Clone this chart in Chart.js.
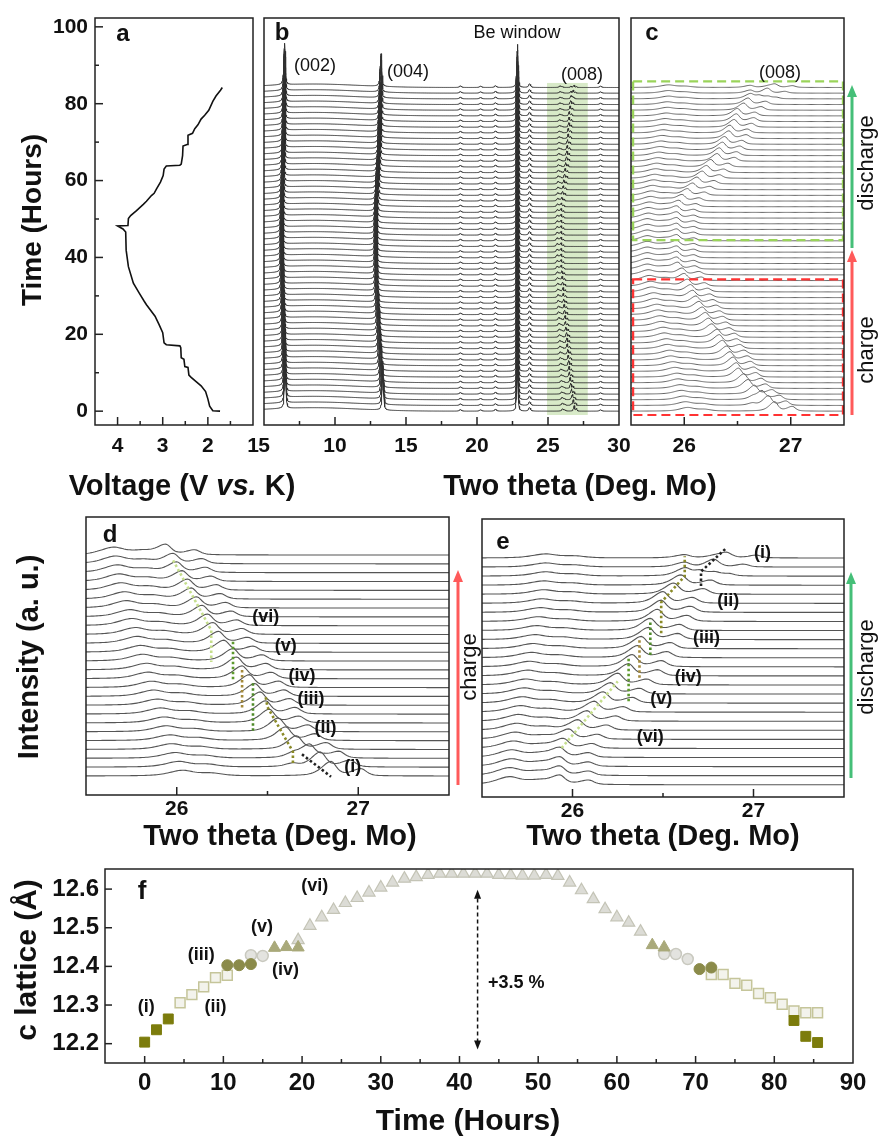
<!DOCTYPE html>
<html>
<head>
<meta charset="utf-8">
<title>Operando XRD - c lattice</title>
<script src="https://cdn.jsdelivr.net/npm/chart.js@4.4.1/dist/chart.umd.min.js"></script>
<style>
  body { margin: 0; background: #fff; }
  #fig { position: relative; width: 879px; height: 1138px; overflow: hidden; background: #fff; }
  #fig canvas { position: absolute; }
</style>
</head>
<body>
<div id="fig">
  <canvas id="pa" width="320" height="510" style="left:0px;top:0px"></canvas>
  <canvas id="pb" width="480" height="510" style="left:250px;top:0px"></canvas>
  <canvas id="pc" width="259" height="510" style="left:620px;top:0px"></canvas>
  <canvas id="pd" width="460" height="360" style="left:0px;top:500px"></canvas>
  <canvas id="pe" width="439" height="360" style="left:440px;top:500px"></canvas>
  <canvas id="pf" width="879" height="278" style="left:0px;top:860px"></canvas>
</div>
<script>
// ---------- panel a : voltage profile ----------
const voltTime = [0, 0.1, 1.3, 3.2, 5.1, 6.6, 7.7, 8.8, 9.4, 11.4,
  11.6, 13.5, 13.9, 16.5, 17.0, 17.3, 17.8, 20.4, 22.5, 24.7,
  27.7, 28.6, 30.7, 33.3, 37.6, 41.9, 46.6, 47.4, 48.2, 48.3,
  50.1, 50.9, 52.2, 53.8, 54.6, 56.1, 56.7, 57.8, 59.6, 61.3,
  63.0, 63.8, 64.0, 64.3, 66.5, 69.0, 69.4, 71.8, 72.3, 73.5,
  74.5, 76.0, 77.0, 78.3, 80.6, 82.0, 83.5, 84.2];
const voltage = [1.73, 1.89, 1.96, 2.0, 2.05, 2.15, 2.26, 2.37, 2.42, 2.44,
  2.51, 2.53, 2.59, 2.6, 2.62, 2.92, 2.97, 3.0, 3.08, 3.17,
  3.36, 3.41, 3.52, 3.65, 3.76, 3.81, 3.82, 3.88, 4.0, 3.77,
  3.76, 3.71, 3.58, 3.43, 3.36, 3.25, 3.19, 3.14, 3.05, 2.99,
  2.97, 2.92, 2.62, 2.59, 2.56, 2.55, 2.46, 2.44, 2.34, 2.29,
  2.22, 2.15, 2.07, 1.98, 1.89, 1.82, 1.72, 1.68];
const voltTicks = [4, 3, 2, 1];
const timeTicks = [0, 20, 40, 60, 80, 100];

// ---------- panels b-e : XRD scans ----------
const scanTime = [0, 1.5, 3, 4.5, 6, 7.5, 9, 10.5, 12, 13.5,
  15, 16.5, 18, 19.5, 21, 22.5, 24, 25.5, 27, 28.5,
  30, 31.5, 33, 34.5, 36, 37.5, 39, 40.5, 42, 43.5,
  45, 46.5, 48, 49.5, 51, 52.5, 54, 55.5, 57, 58.5,
  60, 61.5, 63, 64.5, 66, 67.5, 69, 70.5, 72, 73.5,
  75, 76.5, 78, 79.5, 81, 82.5, 84, 85.5];
// (008) main peak, two theta (Ka1)
const posA = [26.85, 26.79, 26.73, 26.66, 26.60, 26.56, 26.51, 26.49, 26.46, 26.43,
  26.40, 26.36, 26.33, 26.31, 26.26, 26.23, 26.20, 26.17, 26.14, 26.11,
  26.08, 26.06, 26.03, 26.00, 25.98, 25.94, 25.93, 25.93, 25.93, 25.93,
  25.93, 25.93, 25.93, 25.93, 25.93, 25.93, 25.95, 25.98, 26.03, 26.08,
  26.12, 26.17, 26.21, 26.25, 26.31, 26.33, 26.36, 26.38, 26.42, 26.43,
  26.47, 26.49, 26.50, 26.56, 26.60, 26.62, 26.62, 26.62];
const ampA = [1.6, 1.5, 1.5, 1.5, 1.5, 1.5, 1.5, 1.45, 1.45, 1.4,
  1.4, 1.4, 1.4, 1.35, 1.3, 1.3, 1.3, 1.25, 1.25, 1.2,
  1.2, 1.2, 1.15, 1.15, 1.1, 1.1, 1.0, 1.0, 0.95, 0.95,
  0.95, 0.95, 0.95, 0.95, 0.95, 1.0, 1.0, 1.05, 1.1, 1.1,
  1.15, 1.2, 1.2, 1.25, 1.3, 1.3, 1.3, 1.3, 1.3, 1.3,
  1.3, 1.3, 1.25, 1.2, 1.1, 0.8, 0.5, 0.35];
// second (008) phase where two coexist
const posB = [0, 26.64, 26.64, 0, 0, 0, 0, 0, 0, 0,
  0, 0, 0, 0, 0, 0, 0, 0, 0, 0,
  0, 0, 0, 0, 0, 0, 0, 0, 0, 0,
  0, 0, 0, 0, 0, 0, 0, 0, 0, 0,
  0, 0, 0, 0, 0, 0, 0, 0, 0, 0,
  0, 0, 0, 0, 0, 26.70, 26.78, 26.85];
const ampB = [0, 0.35, 0.4, 0, 0, 0, 0, 0, 0, 0,
  0, 0, 0, 0, 0, 0, 0, 0, 0, 0,
  0, 0, 0, 0, 0, 0, 0, 0, 0, 0,
  0, 0, 0, 0, 0, 0, 0, 0, 0, 0,
  0, 0, 0, 0, 0, 0, 0, 0, 0, 0,
  0, 0, 0, 0, 0, 0.5, 0.6, 0.6];
// broad low-angle bump
const posC = [26.03, 26.01, 25.99, 25.97, 25.96, 25.94, 25.93, 25.91, 25.89, 25.87,
  25.86, 25.84, 25.83, 25.81, 25.80, 25.78, 25.77, 25.75, 25.74, 25.72,
  25.71, 25.69, 25.68, 25.67, 25.66, 25.65, 25.65, 25.65, 25.65, 25.65,
  25.65, 25.65, 25.65, 25.65, 25.66, 25.66, 25.67, 25.68, 25.69, 25.70,
  25.71, 25.72, 25.73, 25.74, 25.75, 25.76, 25.77, 25.78, 25.79, 25.80,
  25.81, 25.82, 25.83, 25.84, 25.84, 25.85, 25.85, 25.85];
const ampC = [0.6, 0.6, 0.6, 0.6, 0.6, 0.62, 0.62, 0.64, 0.64, 0.66,
  0.66, 0.68, 0.68, 0.7, 0.7, 0.72, 0.72, 0.74, 0.74, 0.76,
  0.76, 0.78, 0.78, 0.8, 0.8, 0.8, 0.8, 0.8, 0.8, 0.8,
  0.8, 0.8, 0.8, 0.8, 0.78, 0.76, 0.74, 0.72, 0.7, 0.68,
  0.66, 0.64, 0.62, 0.6, 0.58, 0.56, 0.54, 0.52, 0.5, 0.5,
  0.48, 0.48, 0.46, 0.46, 0.44, 0.44, 0.42, 0.42];
const pos002 = [6.50, 6.49, 6.48, 6.47, 6.46, 6.45, 6.44, 6.43, 6.42, 6.41,
  6.40, 6.39, 6.38, 6.37, 6.36, 6.35, 6.34, 6.33, 6.32, 6.31,
  6.30, 6.29, 6.28, 6.27, 6.27, 6.26, 6.26, 6.26, 6.26, 6.26,
  6.26, 6.26, 6.27, 6.27, 6.28, 6.28, 6.29, 6.30, 6.31, 6.32,
  6.33, 6.34, 6.35, 6.36, 6.37, 6.38, 6.39, 6.40, 6.41, 6.41,
  6.42, 6.42, 6.43, 6.43, 6.44, 6.44, 6.45, 6.45];
const pos004 = [13.38, 13.36, 13.34, 13.31, 13.28, 13.26, 13.23, 13.20, 13.18, 13.15,
  13.13, 13.11, 13.09, 13.07, 13.05, 13.03, 13.01, 12.99, 12.97, 12.95,
  12.93, 12.92, 12.91, 12.90, 12.89, 12.88, 12.88, 12.88, 12.88, 12.88,
  12.88, 12.88, 12.88, 12.89, 12.90, 12.91, 12.93, 12.95, 12.97, 12.99,
  13.01, 13.03, 13.05, 13.07, 13.09, 13.11, 13.13, 13.14, 13.15, 13.16,
  13.17, 13.18, 13.19, 13.20, 13.21, 13.22, 13.23, 13.24];
const posBe = 22.85;
const amp002 = 11, amp004 = 8.5, ampBe = 11.5;
const minorPos = [18.83, 20.25, 21.3, 23.7, 28.7];
const minorAmp = [0.4, 0.35, 0.45, 0.9, 0.35];
const thetaTicksB = [5, 10, 15, 20, 25, 30];
const thetaTicks008 = [26, 27];

// ---------- panel f : c lattice ----------
const filledSquares = [[0, 12.204], [1.5, 12.236], [3, 12.264], [82.5, 12.26], [84, 12.219], [85.5, 12.203]];
const openSquares = [[4.5, 12.306], [6, 12.327], [7.5, 12.347], [9, 12.371], [10.5, 12.377],
  [72, 12.379], [73.5, 12.379], [75, 12.356], [76.5, 12.351], [78, 12.33], [79.5, 12.319],
  [81, 12.302], [82.5, 12.285], [84, 12.28], [85.5, 12.28]];
const filledCircles = [[10.5, 12.403], [12, 12.403], [13.5, 12.406], [70.5, 12.393], [72, 12.397]];
const openCircles = [[13.5, 12.429], [15, 12.427], [66, 12.432], [67.5, 12.432], [69, 12.419]];
const filledTriangles = [[16.5, 12.448], [18, 12.45], [19.5, 12.449], [64.5, 12.455], [66, 12.449]];
const greyTriangles = [[19.5, 12.468], [21, 12.505], [22.5, 12.527], [24, 12.546], [25.5, 12.564],
  [27, 12.577], [28.5, 12.591], [30, 12.604], [31.5, 12.617], [33, 12.627], [34.5, 12.631],
  [36, 12.637], [37.5, 12.64], [39, 12.64], [40.5, 12.64], [42, 12.64], [43.5, 12.64],
  [45, 12.637], [46.5, 12.636], [48, 12.635], [49.5, 12.635], [51, 12.637], [52.5, 12.634],
  [54, 12.617], [55.5, 12.597], [57, 12.574], [58.5, 12.548], [60, 12.527], [61.5, 12.513], [63, 12.49]];
const hourTicks = [0, 10, 20, 30, 40, 50, 60, 70, 80, 90];
const latticeTicks = [12.2, 12.3, 12.4, 12.5, 12.6];

// ---------- helpers ----------
const FONT = '"Liberation Sans", Arial, Helvetica, sans-serif';
const fnt = (style, size) => style + ' ' + size + 'px ' + FONT;
Chart.defaults.font.family = FONT;

function pv(x, p, wl, wr) {
  const u = (x - p) / (x < p ? wl : wr);
  return 0.55 / (1 + u * u) + 0.45 * Math.exp(-0.693 * u * u);
}
// Mo Ka1/Ka2 pair
function doublet(x, p, wl, wr) {
  const d = 0.16 * Math.tan(p * Math.PI / 360) / Math.tan(13 * Math.PI / 180);
  return pv(x, p, wl, wr) + 0.5 * pv(x, p + d, wl, wr);
}
function peak008(i, x) {
  let y = ampA[i] * doublet(x, posA[i], 0.06, 0.035) + ampC[i] * doublet(x, posC[i], 0.085, 0.07);
  if (ampB[i] > 0) y += ampB[i] * doublet(x, posB[i], 0.05, 0.035);
  return y;
}
function wideScan(i, x) {
  const g = (x - 8.5) / 4.5;
  let y = 0.9 * Math.exp(-g * g);
  y += amp002 * pv(x, pos002[i], 0.07, 0.055) + amp004 * pv(x, pos004[i], 0.075, 0.06) + ampBe * pv(x, posBe, 0.06, 0.05);
  minorPos.forEach((p, k) => { y += minorAmp[k] * pv(x, p, 0.09, 0.09); });
  return y + 0.9 * peak008(i, x);
}

const gridB = [];
for (let k = 0; k <= 1250; k++) gridB.push(5 + k * 0.02);
const grid008 = [];
for (let k = 0; k <= 200; k++) grid008.push(25.5 + k * 0.01);

const lift = 0.985;
const trace = (data, color, w) => ({ data, borderColor: color, borderWidth: w, pointRadius: 0, tension: 0, fill: false });
const guide = (pts, color) => ({ data: pts.map(([x, y]) => ({ x, y })), borderColor: color, borderWidth: 2.6,
  borderDash: [2.5, 2.5], pointRadius: 0, tension: 0, fill: false });

// ---------- decoration plugin ----------
const decoConfig = {};
function drawText(ctx, t, xs, ys) {
  let x = t.x, y = t.y;
  if (t.data) { x = xs.getPixelForValue(t.x); y = ys.getPixelForValue(t.y); }
  const parts = Array.isArray(t.t) ? t.t : [[t.t, t.font]];
  ctx.save();
  ctx.translate(x, y);
  if (t.rot) ctx.rotate(t.rot * Math.PI / 180);
  ctx.fillStyle = t.color || '#111';
  ctx.textBaseline = 'middle';
  ctx.textAlign = 'left';
  let total = 0;
  parts.forEach(([s, f]) => { ctx.font = f; total += ctx.measureText(s).width; });
  let cx = -total / 2;
  parts.forEach(([s, f]) => { ctx.font = f; ctx.fillText(s, cx, 0); cx += ctx.measureText(s).width; });
  ctx.restore();
}
function upArrow(ctx, x, y0, y1, color) {
  const head = 12, hw = 5;
  ctx.save();
  ctx.strokeStyle = color; ctx.fillStyle = color; ctx.lineWidth = 3;
  ctx.beginPath(); ctx.moveTo(x, y0); ctx.lineTo(x, y1 + head - 1); ctx.stroke();
  ctx.beginPath(); ctx.moveTo(x, y1); ctx.lineTo(x - hw, y1 + head); ctx.lineTo(x + hw, y1 + head); ctx.closePath(); ctx.fill();
  ctx.restore();
}
const deco = {
  id: 'deco',
  beforeDatasetsDraw(chart) {
    const o = decoConfig[chart.canvas.id] || {};
    const { ctx } = chart, xs = chart.scales.x, ys = chart.scales.y;
    (o.under || []).forEach(r => {
      const x0 = xs.getPixelForValue(r.x0), x1 = xs.getPixelForValue(r.x1);
      const y0 = ys.getPixelForValue(r.y0), y1 = ys.getPixelForValue(r.y1);
      ctx.save(); ctx.fillStyle = r.fill;
      ctx.fillRect(Math.min(x0, x1), Math.min(y0, y1), Math.abs(x1 - x0), Math.abs(y1 - y0));
      ctx.restore();
    });
  },
  afterDatasetsDraw(chart) {
    const o = decoConfig[chart.canvas.id] || {};
    const { ctx, chartArea: a } = chart, xs = chart.scales.x, ys = chart.scales.y;
    ctx.save();
    (o.boxes || []).forEach(b => {
      const x0 = xs.getPixelForValue(b.x0), x1 = xs.getPixelForValue(b.x1);
      const y0 = ys.getPixelForValue(b.y0), y1 = ys.getPixelForValue(b.y1);
      ctx.strokeStyle = b.color; ctx.lineWidth = 2.2; ctx.setLineDash([9, 5]);
      ctx.strokeRect(x0, y1, x1 - x0, y0 - y1);
      ctx.setLineDash([]);
    });
    ctx.strokeStyle = '#222'; ctx.lineWidth = 1.5;
    ctx.strokeRect(a.left, a.top, a.right - a.left, a.bottom - a.top);
    (o.ticks || []).forEach(t => {
      t.values.forEach(v => {
        ctx.beginPath();
        if (t.axis === 'x') { const p = xs.getPixelForValue(v); ctx.moveTo(p, a.bottom); ctx.lineTo(p, a.bottom - t.len); }
        else { const p = ys.getPixelForValue(v); ctx.moveTo(a.left, p); ctx.lineTo(a.left + t.len, p); }
        ctx.stroke();
      });
    });
    (o.arrows || []).forEach(r => upArrow(ctx, r.x, r.y0, r.y1, r.color));
    if (o.dArrow) {
      const d = o.dArrow;
      const px = xs.getPixelForValue(d.x), p0 = ys.getPixelForValue(d.y0), p1 = ys.getPixelForValue(d.y1);
      ctx.strokeStyle = '#111'; ctx.fillStyle = '#111'; ctx.lineWidth = 1.5; ctx.setLineDash([4, 3]);
      ctx.beginPath(); ctx.moveTo(px, p0 - 7); ctx.lineTo(px, p1 + 7); ctx.stroke(); ctx.setLineDash([]);
      ctx.beginPath(); ctx.moveTo(px, p1); ctx.lineTo(px - 3.5, p1 + 9); ctx.lineTo(px + 3.5, p1 + 9); ctx.closePath(); ctx.fill();
      ctx.beginPath(); ctx.moveTo(px, p0); ctx.lineTo(px - 3.5, p0 - 9); ctx.lineTo(px + 3.5, p0 - 9); ctx.closePath(); ctx.fill();
    }
    (o.texts || []).forEach(t => drawText(ctx, t, xs, ys));
    ctx.restore();
  }
};
Chart.register(deco);

function build(id, type, datasets, area, xc, yc) {
  const cv = document.getElementById(id);
  const cw = cv.width, ch = cv.height;
  const zero = s => { s.paddingLeft = 0; s.paddingRight = 0; s.paddingTop = 0; s.paddingBottom = 0; };
  const axis = (c, horiz) => ({
    type: 'linear', min: c.min, max: c.max, reverse: !!c.reverse,
    grid: { display: false, drawTicks: false }, border: { display: false },
    ticks: { display: !!c.labels, autoSkip: false, maxRotation: 0, minRotation: 0, padding: c.pad || 0, color: '#111',
      font: { size: c.size || 21, weight: 'bold' }, callback: v => String(v) },
    afterBuildTicks: s => { if (c.labels) s.ticks = c.labels.map(v => ({ value: v })); },
    afterFit: s => { if (horiz) s.height = ch - area.b; else s.width = area.l; zero(s); }
  });
  return new Chart(cv, {
    type,
    data: { datasets },
    options: {
      responsive: false, animation: false, devicePixelRatio: 1, events: [],
      layout: { padding: { left: 0, top: area.t, right: cw - area.r, bottom: 0 } },
      plugins: { legend: { display: false }, tooltip: { enabled: false } },
      scales: { x: axis(xc, true), y: axis(yc, false) }
    }
  });
}

const timeRange = { min: -3.6, max: 102.3 };
const red = '#ff5a5a', green = '#45bf78';

// ---------- panel a ----------
decoConfig.pa = {
  ticks: [{ axis: 'x', values: [4, 3, 2], len: 8 }, { axis: 'x', values: [3.5, 2.5, 1.5], len: 4 },
    { axis: 'y', values: [0, 20, 40, 60, 80, 100], len: 8 }, { axis: 'y', values: [10, 30, 50, 70, 90], len: 4 }],
  texts: [
    { t: 'a', x: 123, y: 34, font: fnt('bold', 24) },
    { t: 'Time (Hours)', x: 33, y: 220, rot: -90, font: fnt('bold', 28) },
    { t: [['Voltage (V ', fnt('bold', 29)], ['vs.', fnt('italic bold', 29)], [' K)', fnt('bold', 29)]], x: 182, y: 487 }
  ]
};
build('pa', 'line',
  [trace(voltage.map((v, k) => ({ x: v, y: voltTime[k] })), '#111', 1.6)],
  { l: 95, t: 18, r: 253, b: 425 },
  { min: 1.0, max: 4.5, reverse: true, labels: voltTicks, pad: 9 },
  { min: timeRange.min, max: timeRange.max, labels: timeTicks, pad: 7 });

// ---------- panel b ----------
decoConfig.pb = {
  under: [{ x0: 24.93, x1: 27.8, y0: -1.0, y1: 85.4, fill: '#d8eac8' }],
  ticks: [{ axis: 'x', values: [10, 15, 20, 25], len: 8 }, { axis: 'x', values: [7.5, 12.5, 17.5, 22.5, 27.5], len: 4 }],
  texts: [
    { t: 'b', x: 32, y: 33, font: fnt('bold', 24) },
    { t: 'Be window', x: 267, y: 33, font: fnt('normal', 18) },
    { t: '(002)', x: 65, y: 66, font: fnt('normal', 18) },
    { t: '(004)', x: 158, y: 72, font: fnt('normal', 18) },
    { t: '(008)', x: 332, y: 75, font: fnt('normal', 18) },
    { t: 'Two theta (Deg. Mo)', x: 330, y: 487, font: fnt('bold', 29) }
  ]
};
build('pb', 'line',
  scanTime.map((t, i) => trace(gridB.map(x => ({ x, y: lift * t + wideScan(i, x) })), '#303030', 1)),
  { l: 14, t: 18, r: 369, b: 425 },
  { min: 5, max: 30, labels: thetaTicksB, pad: 9 },
  { min: timeRange.min, max: timeRange.max });

// ---------- panel c ----------
decoConfig.pc = {
  ticks: [{ axis: 'x', values: [26, 27], len: 8 }, { axis: 'x', values: [26.5], len: 4 }],
  boxes: [{ x0: 25.52, x1: 27.49, y0: 44.5, y1: 85.8, color: '#9ad45a' },
    { x0: 25.52, x1: 27.49, y0: -1.0, y1: 34.3, color: '#ff3333' }],
  arrows: [{ x: 232, y0: 415, y1: 250, color: red }, { x: 232, y0: 248, y1: 85, color: green }],
  texts: [
    { t: 'c', x: 32, y: 33, font: fnt('bold', 24) },
    { t: '(008)', x: 160, y: 73, font: fnt('normal', 18) },
    { t: 'charge', x: 247, y: 350, rot: -90, font: fnt('normal', 22) },
    { t: 'discharge', x: 247, y: 163, rot: -90, font: fnt('normal', 22) }
  ]
};
build('pc', 'line',
  scanTime.map((t, i) => trace(grid008.map(x => ({ x, y: lift * t + 1.5 * peak008(i, x) })), '#666', 1)),
  { l: 11, t: 18, r: 224, b: 425 },
  { min: 25.5, max: 27.5, labels: thetaTicks008, pad: 9 },
  { min: timeRange.min, max: timeRange.max });

// ---------- panel d (charge scans) ----------
const chargeScans = scanTime.map((t, i) => i).filter(i => i <= 25);
const dischargeScans = scanTime.map((t, i) => i).filter(i => i >= 32);
const roman = ['(i)', '(ii)', '(iii)', '(iv)', '(v)', '(vi)'];
const dLabelAt = [[26.97, 1.0], [26.82, 5.4], [26.74, 8.7], [26.69, 11.3], [26.60, 14.7], [26.49, 17.97]];
const eLabelAt = [[27.05, 25.5], [26.86, 20.3], [26.74, 16.2], [26.64, 11.9], [26.49, 9.5], [26.43, 5.3]];
decoConfig.pd = {
  ticks: [{ axis: 'x', values: [26, 27], len: 8 }, { axis: 'x', values: [26.5], len: 4 }],
  texts: [
    { t: 'd', x: 110, y: 35, font: fnt('bold', 24) },
    { t: 'Intensity (a. u.)', x: 30, y: 157, rot: -90, font: fnt('bold', 29) },
    { t: 'Two theta (Deg. Mo)', x: 280, y: 337, font: fnt('bold', 29) }
  ].concat(roman.map((r, k) => ({ t: r, x: dLabelAt[k][0], y: dLabelAt[k][1], data: true, font: fnt('bold', 18) })))
};
build('pd', 'line',
  [guide([[26.69, 2.45], [26.85, -0.08]], '#222'),
   guide([[26.49, 8.9], [26.50, 7.8], [26.64, 2.75], [26.64, 1.2]], '#8a8a28'),
   guide([[26.42, 10.5], [26.42, 5.0]], '#4f8a2a'),
   guide([[26.36, 12.0], [26.36, 7.5]], '#a48a3c'),
   guide([[26.31, 15.2], [26.31, 10.8]], '#5e9a2e'),
   guide([[25.98, 24.4], [26.19, 16.5], [26.19, 12.9]], '#c5de8c')]
    .concat(chargeScans.map(i => trace(grid008.map(x => ({ x, y: i + peak008(i, x) })), '#555', 1.1))),
  { l: 86, t: 17, r: 449, b: 295 },
  { min: 25.5, max: 27.5, labels: thetaTicks008, pad: 2 },
  { min: -2.15, max: 29.3 });

// ---------- panel e (discharge scans) ----------
decoConfig.pe = {
  ticks: [{ axis: 'x', values: [26, 27], len: 8 }, { axis: 'x', values: [26.5], len: 4 }],
  arrows: [{ x: 18, y0: 285, y1: 70, color: red }, { x: 411, y0: 278, y1: 72, color: green }],
  texts: [
    { t: 'e', x: 63, y: 42, font: fnt('bold', 24) },
    { t: 'charge', x: 30, y: 167, rot: -90, font: fnt('normal', 22) },
    { t: 'discharge', x: 427, y: 167, rot: -90, font: fnt('normal', 22) },
    { t: 'Two theta (Deg. Mo)', x: 223, y: 337, font: fnt('bold', 29) }
  ].concat(roman.map((r, k) => ({ t: r, x: eLabelAt[k][0], y: eLabelAt[k][1], data: true, font: fnt('bold', 18) })))
};
build('pe', 'line',
  [guide([[26.71, 21.9], [26.71, 23.5], [26.85, 26.1]], '#222'),
   guide([[26.49, 16.7], [26.49, 20.1], [26.62, 23.0], [26.62, 25.2]], '#8a8a28'),
   guide([[26.43, 14.3], [26.43, 18.2]], '#4f8a2a'),
   guide([[26.37, 11.8], [26.37, 16.1]], '#a48a3c'),
   guide([[26.31, 9.2], [26.31, 14.1]], '#5e9a2e'),
   guide([[25.94, 4.05], [26.25, 11.4]], '#c5de8c')]
    .concat(dischargeScans.map(i => trace(grid008.map(x => ({ x, y: (i - 32) + peak008(i, x) })), '#555', 1.1))),
  { l: 42, t: 19, r: 404, b: 297 },
  { min: 25.5, max: 27.5, labels: thetaTicks008, pad: 1.5 },
  { min: -1.35, max: 29.3 });

// ---------- panel f ----------
const markers = (pts, style, bg, border, r, bw) => ({
  data: pts.map(([x, y]) => ({ x, y })), showLine: false, pointStyle: style,
  pointBackgroundColor: bg, pointBorderColor: border, pointRadius: r, pointBorderWidth: bw
});
decoConfig.pf = {
  ticks: [{ axis: 'x', values: [0, 10, 20, 30, 40, 50, 60, 70, 80], len: 7 },
    { axis: 'x', values: [5, 15, 25, 35, 45, 55, 65, 75, 85], len: 4 },
    { axis: 'y', values: latticeTicks, len: 7 }],
  dArrow: { x: 42.3, y0: 12.185, y1: 12.598 },
  texts: [
    { t: 'f', x: 142, y: 32, font: fnt('bold', 26) },
    { t: 'c lattice (\u00C5)', x: 28, y: 100, rot: -90, font: fnt('bold', 30) },
    { t: 'Time (Hours)', x: 468, y: 262, font: fnt('bold', 30) },
    { t: '+3.5 %', x: 47.2, y: 12.356, data: true, font: fnt('bold', 18) },
    { t: '(i)', x: 0.2, y: 12.295, data: true, font: fnt('bold', 18) },
    { t: '(ii)', x: 9.0, y: 12.295, data: true, font: fnt('bold', 18) },
    { t: '(iii)', x: 7.2, y: 12.429, data: true, font: fnt('bold', 18) },
    { t: '(iv)', x: 17.9, y: 12.39, data: true, font: fnt('bold', 18) },
    { t: '(v)', x: 14.9, y: 12.503, data: true, font: fnt('bold', 18) },
    { t: '(vi)', x: 21.6, y: 12.607, data: true, font: fnt('bold', 18) }
  ]
};
build('pf', 'scatter',
  [markers(filledSquares, 'rect', '#7c7c0c', '#7c7c0c', 7, 1),
   markers(filledCircles, 'circle', '#8b8b4a', '#8b8b4a', 5.5, 1),
   markers(filledTriangles, 'triangle', '#a9a97a', '#a9a97a', 7, 1),
   markers(openCircles, 'circle', '#e3e3df', '#c9c9bf', 5.5, 1.5),
   markers(greyTriangles, 'triangle', '#dcdcd6', '#c4c4b6', 7, 1.2),
   markers(openSquares, 'rect', '#f3f3ec', '#c5c59a', 7, 1.5)],
  { l: 105, t: 9, r: 853, b: 203 },
  { min: -5.04, max: 90, labels: hourTicks, pad: 6, size: 24 },
  { min: 12.15, max: 12.652, labels: latticeTicks, pad: 6, size: 24 });
</script>
</body>
</html>
